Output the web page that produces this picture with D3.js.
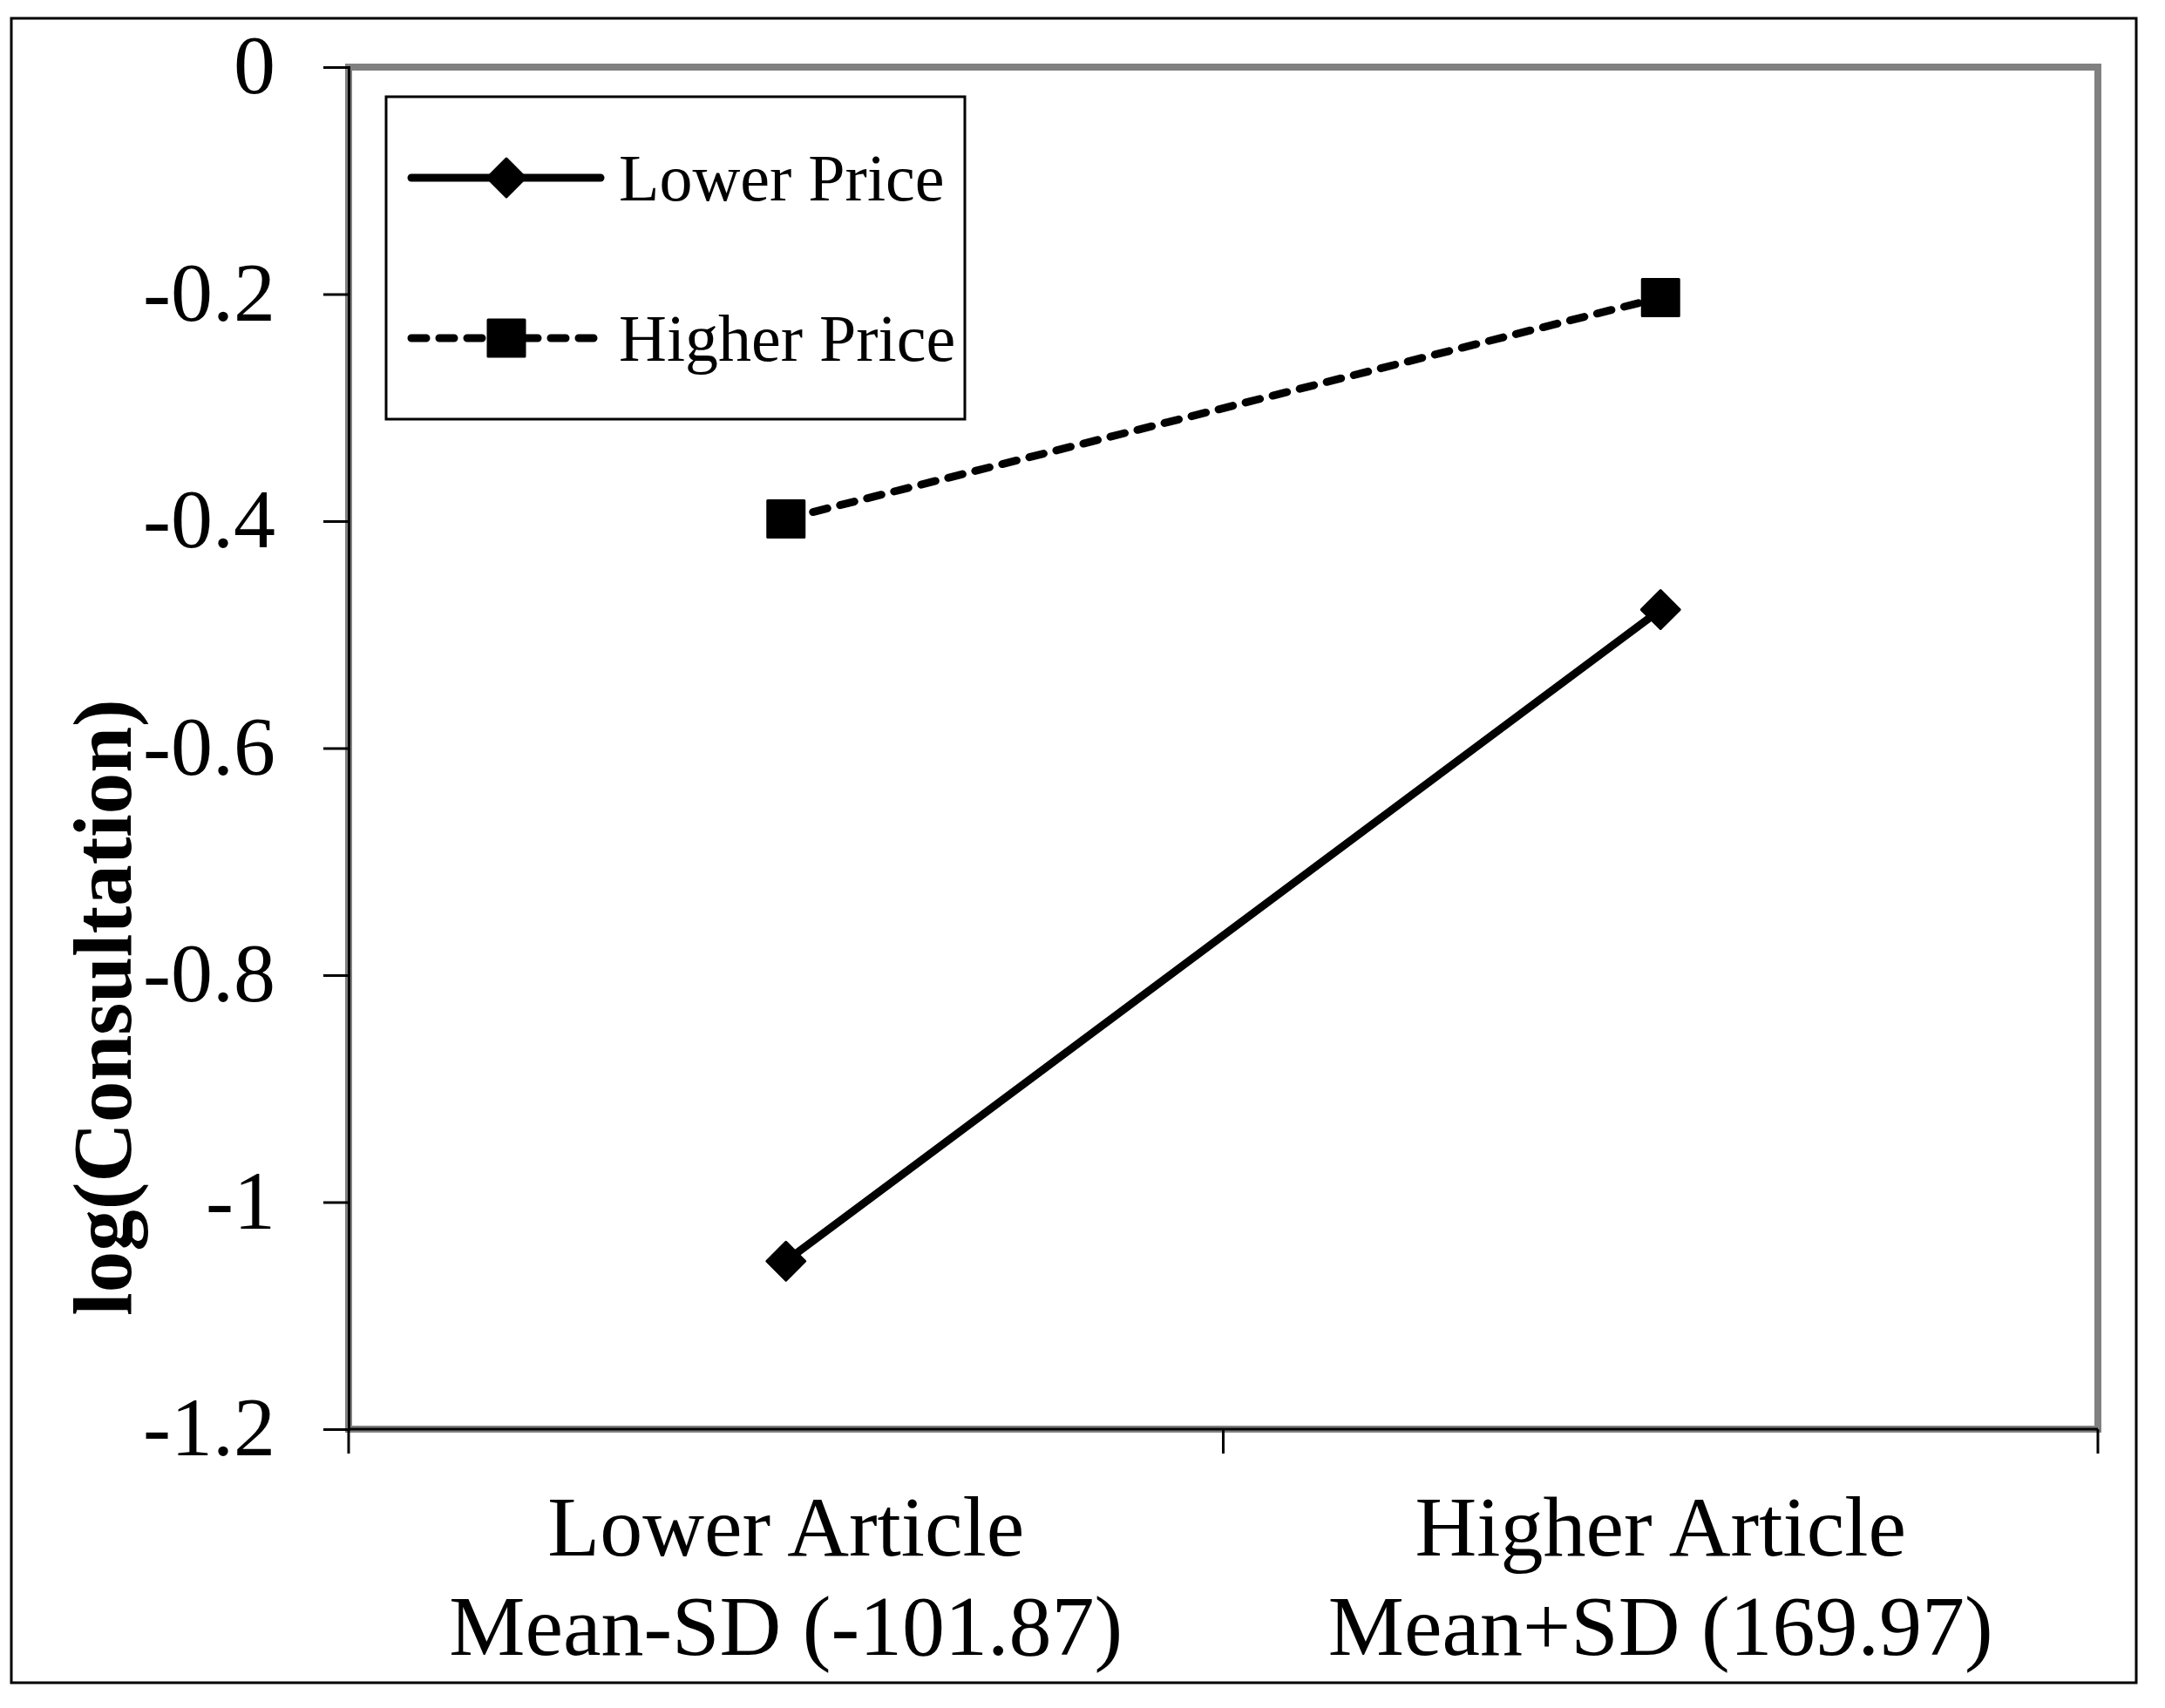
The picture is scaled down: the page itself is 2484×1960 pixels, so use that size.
<!DOCTYPE html>
<html>
<head>
<meta charset="utf-8">
<script src="https://cdn.jsdelivr.net/npm/d3@7"></script>
<style>
  html, body { margin: 0; padding: 0; background: #fff; }
  svg { display: block; }
  text { font-family: "Times New Roman", "Liberation Serif", serif; fill: #000; }
</style>
</head>
<body>
<script>
// ---- data ----
const categories = ["Lower Article", "Higher Article"];
const categorySubLabels = ["Mean-SD (-101.87)", "Mean+SD (169.97)"];
const seriesNames = ["Lower Price", "Higher Price"];
const lowerPrice = [-1.052, -0.478];
const higherPrice = [-0.398, -0.203];
const yTickValues = [0, -0.2, -0.4, -0.6, -0.8, -1, -1.2];
const yTickLabels = ["0", "-0.2", "-0.4", "-0.6", "-0.8", "-1", "-1.2"];
const yTitle = "log(Consultation)";

// ---- layout ----
const W = 2484, H = 1960;
const plot = { left: 400, right: 2407, top: 77, bottom: 1640 };

const svg = d3.select("body").append("svg").attr("width", W).attr("height", H);
svg.append("rect").attr("width", W).attr("height", H).attr("fill", "#fff");

// outer frame
svg.append("rect").attr("x", 13).attr("y", 21).attr("width", 2451 - 13).attr("height", 1931 - 21)
  .attr("fill", "none").attr("stroke", "#000").attr("stroke-width", 3);

const x = d3.scaleBand().domain(categories).range([plot.left, plot.right]).padding(0);
const y = d3.scaleLinear().domain([-1.2, 0]).range([plot.bottom, plot.top]);

// plot area border (gray)
svg.append("rect").attr("x", plot.left).attr("y", plot.top)
  .attr("width", plot.right - plot.left).attr("height", plot.bottom - plot.top)
  .attr("fill", "none").attr("stroke", "#808080").attr("stroke-width", 8);

// y axis
const yAxis = d3.axisLeft(y).tickValues(yTickValues).tickSize(29).tickPadding(55)
  .tickFormat((d, i) => yTickLabels[i]);
const gy = svg.append("g").attr("transform", `translate(${plot.left},0)`).call(yAxis);
gy.select(".domain").attr("stroke", "#000").attr("stroke-width", 3);
gy.selectAll(".tick line").attr("stroke", "#000").attr("stroke-width", 3);
gy.selectAll(".tick text").attr("font-size", 96).attr("dy", "0.31em")
  .attr("font-family", "'Times New Roman', 'Liberation Serif', serif");

// x axis (ticks at band boundaries)
const xTickPos = categories.map(c => x(c)).concat([x(categories[categories.length - 1]) + x.bandwidth()]);
const gx = svg.append("g");
gx.append("line").attr("x1", plot.left).attr("x2", plot.right).attr("y1", plot.bottom).attr("y2", plot.bottom)
  .attr("stroke", "#000").attr("stroke-width", 3);
gx.selectAll("line.tk").data(xTickPos).join("line").attr("class", "tk")
  .attr("x1", d => d).attr("x2", d => d).attr("y1", plot.bottom).attr("y2", plot.bottom + 28)
  .attr("stroke", "#000").attr("stroke-width", 3);
const xl = gx.selectAll("text.cat").data(categories).join("text").attr("class", "cat")
  .attr("x", d => x(d) + x.bandwidth() / 2).attr("text-anchor", "middle").attr("font-size", 98);
xl.append("tspan").attr("x", d => x(d) + x.bandwidth() / 2).attr("y", 1785).text(d => d);
xl.append("tspan").attr("x", d => x(d) + x.bandwidth() / 2).attr("y", 1899).text((d, i) => categorySubLabels[i]);

// y title
svg.append("text").attr("transform", "translate(150,1156) rotate(-90)")
  .attr("text-anchor", "middle").attr("font-size", 95).attr("font-weight", "bold").text(yTitle);

// series
const cx = c => x(c) + x.bandwidth() / 2;
const series = [
  { name: seriesNames[0], values: lowerPrice, dash: null, shape: "diamond" },
  { name: seriesNames[1], values: higherPrice, dash: "17,15", shape: "square" }
];
const line = d3.line().x((d, i) => cx(categories[i])).y(d => y(d));
const squareSym = d3.symbol().type(d3.symbolSquare).size(42 * 42);
const diamondSym = d3.symbol().type(d3.symbolSquare).size(31 * 31);

function drawMarker(g, shape, px, py) {
  const p = g.append("path").attr("fill", "#000").attr("stroke", "#000")
    .attr("stroke-width", 3).attr("stroke-linejoin", "round");
  if (shape === "square") {
    p.attr("d", squareSym()).attr("transform", `translate(${px},${py})`);
  } else {
    p.attr("d", diamondSym()).attr("transform", `translate(${px},${py}) rotate(45)`);
  }
}

series.forEach(s => {
  const g = svg.append("g");
  const path = g.append("path").datum(s.values).attr("d", line).attr("fill", "none")
    .attr("stroke", "#000").attr("stroke-width", 9).attr("stroke-linecap", "round");
  if (s.dash) path.attr("stroke-dasharray", s.dash);
  s.values.forEach((v, i) => drawMarker(g, s.shape, cx(categories[i]), y(v)));
});

// legend
const lg = svg.append("g");
lg.append("rect").attr("x", 443).attr("y", 111).attr("width", 1107 - 443).attr("height", 481 - 111)
  .attr("fill", "#fff").attr("stroke", "#000").attr("stroke-width", 3);
const legendY = [204, 388];
series.forEach((s, i) => {
  const ly = legendY[i];
  const l = lg.append("line").attr("x1", 472).attr("x2", 689).attr("y1", ly).attr("y2", ly)
    .attr("stroke", "#000").attr("stroke-width", 9).attr("stroke-linecap", "round");
  if (s.dash) l.attr("stroke-dasharray", s.dash);
  drawMarker(lg, s.shape, 581, ly);
  lg.append("text").attr("x", 710).attr("y", ly + 26).attr("font-size", 76).text(s.name);
});
</script>
</body>
</html>
